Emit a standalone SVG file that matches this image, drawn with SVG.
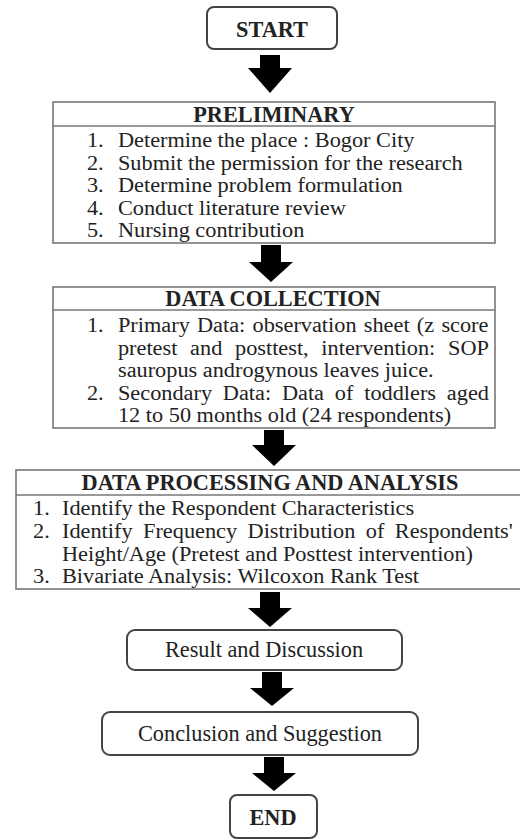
<svg xmlns="http://www.w3.org/2000/svg" width="520" height="840" viewBox="0 0 520 840">
<style>
  text { font-family: "Liberation Serif", "Times New Roman", serif; fill: #222; }
  .t { font-size: 20px; }
  .h { font-size: 22.3px; font-weight: bold; text-anchor: middle; }
  .c { font-size: 22.3px; text-anchor: middle; }
  .box { fill: #fff; stroke: #777; stroke-width: 1.6; }
  .sep { stroke: #777; stroke-width: 1.6; }
  .rbox { fill: #fff; stroke: #444; stroke-width: 2; }
  .arrow { fill: #000; }
</style>
<rect width="520" height="840" fill="#fff"/>

<g id="connectors">
  <polygon class="arrow" points="260,55 280,55 280,68 292,68 270,93 248,68 260,68"/>
  <polygon class="arrow" points="261,245 281,245 281,262 293,262 271,282 249,262 261,262"/>
  <polygon class="arrow" points="264,430 284,430 284,445 296,445 274,466 252,445 264,445"/>
  <polygon class="arrow" points="260,592 280,592 280,608 292,608 270,627 248,608 260,608"/>
  <polygon class="arrow" points="262,672 282,672 282,688 294,688 272,706 250,688 262,688"/>
  <polygon class="arrow" points="264,757 284,757 284,773 296,773 274,791 252,773 264,773"/>
</g>

<g id="start">
  <rect class="rbox" x="207" y="7" width="130" height="42" rx="7"/>
  <text class="h" x="272" y="37">START</text>
</g>

<g id="preliminary">
  <rect class="box" x="53" y="102" width="442" height="141"/>
  <line class="sep" x1="53" y1="126" x2="495" y2="126"/>
  <text class="h" x="274" y="122">PRELIMINARY</text>
  <g transform="scale(1.115,1)">
    <text class="t"><tspan x="78" y="147.5">1.</tspan><tspan x="105.8" y="147.5">Determine the place : Bogor City</tspan><tspan x="78" y="170">2.</tspan><tspan x="105.8" y="170">Submit the permission for the research</tspan><tspan x="78" y="192.5">3.</tspan><tspan x="105.8" y="192.5">Determine problem formulation</tspan><tspan x="78" y="215">4.</tspan><tspan x="105.8" y="215">Conduct literature review</tspan><tspan x="78" y="237.5">5.</tspan><tspan x="105.8" y="237.5">Nursing contribution</tspan></text>
  </g>
</g>

<g id="data-collection">
  <rect class="box" x="53" y="287" width="442" height="141"/>
  <line class="sep" x1="53" y1="310" x2="495" y2="310"/>
  <text class="h" x="273" y="306">DATA COLLECTION</text>
  <g transform="scale(1.115,1)">
    <text class="t"><tspan x="78" y="332.5">1.</tspan><tspan x="105.8" y="332.5" word-spacing="1.5">Primary Data: observation sheet (z score</tspan><tspan x="105.8" y="355" word-spacing="6.4">pretest and posttest, intervention: SOP</tspan><tspan x="105.8" y="377.5">sauropus androgynous leaves juice.</tspan><tspan x="78" y="400">2.</tspan><tspan x="105.8" y="400" word-spacing="4.7">Secondary Data: Data of toddlers aged</tspan><tspan x="105.8" y="422.5">12 to 50 months old (24 respondents)</tspan></text>
  </g>
</g>

<g id="data-processing">
  <rect class="box" x="16" y="470" width="520" height="119"/>
  <line class="sep" x1="16" y1="495" x2="520" y2="495"/>
  <text class="h" x="270" y="490">DATA PROCESSING AND ANALYSIS</text>
  <g transform="scale(1.115,1)">
    <text class="t"><tspan x="29.6" y="515">1.</tspan><tspan x="55.6" y="515">Identify the Respondent Characteristics</tspan><tspan x="29.6" y="538">2.</tspan><tspan x="55.6" y="538" word-spacing="4.4">Identify Frequency Distribution of Respondents'</tspan><tspan x="55.6" y="561">Height/Age (Pretest and Posttest intervention)</tspan><tspan x="29.6" y="583.5">3.</tspan><tspan x="55.6" y="583.5">Bivariate Analysis: Wilcoxon Rank Test</tspan></text>
  </g>
</g>

<g id="result">
  <rect class="rbox" x="127" y="630" width="275" height="40" rx="8"/>
  <text class="c" x="264" y="657">Result and Discussion</text>
</g>

<g id="conclusion">
  <rect class="rbox" x="102" y="712" width="316" height="43" rx="8"/>
  <text class="c" x="260" y="741">Conclusion and Suggestion</text>
</g>

<g id="end">
  <rect class="rbox" x="230" y="795" width="87" height="43" rx="7"/>
  <text class="h" x="273" y="825">END</text>
</g>
</svg>
